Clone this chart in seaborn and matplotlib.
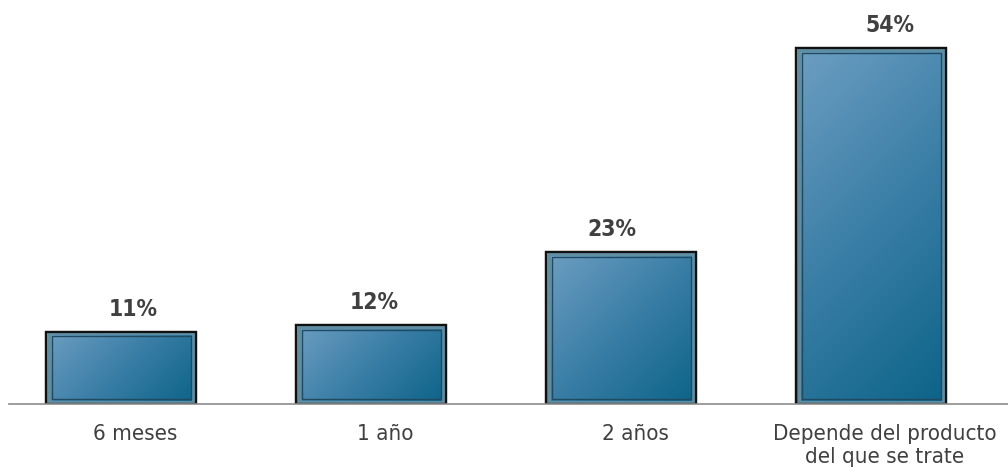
import numpy as np
import pandas as pd
import matplotlib
matplotlib.use("Agg")
import matplotlib.pyplot as plt
import matplotlib.transforms as mtransforms
from matplotlib import font_manager
import seaborn as sns
from matplotlib.colors import LinearSegmentedColormap
from matplotlib.patches import Rectangle

categories = ["6 meses", "1 año", "2 años", "Depende del producto\ndel que se trate"]
values = [11, 12, 23, 54]
value_labels = ["11%", "12%", "23%", "54%"]

df = pd.DataFrame({"cat": categories, "val": values})

sns.set_theme(style="white")
plt.rcParams["font.family"] = ["DejaVu Sans"]

# use condensed DejaVu if it is installed
fp = font_manager.FontProperties(family="DejaVu Sans", stretch="condensed")
cond_path = font_manager.findfont(fp)
has_cond = "Condensed" in cond_path
stretch = "condensed" if has_cond else "normal"
tick_size = 16 if has_cond else 14.5
val_size = 16.5 if has_cond else 15

fig = plt.figure(figsize=(10.08, 4.74), dpi=100)
ax = fig.add_axes([9 / 1008, (474 - 404) / 474, 999 / 1008, 404 / 474])

sns.barplot(data=df, x="cat", y="val", ax=ax, width=0.6, color="#2f7399",
            edgecolor="#111111", linewidth=1.6, zorder=2)

ax.set_xlim(-0.448, 3.548)
ax.set_ylim(0, 61.3)

cmap = LinearSegmentedColormap.from_list("g", ["#6e9ec2", "#3a7ea6", "#0c6388"])
px_per_x = 250.0
px_per_y = 404 / 61.3
label_dx_px = [12, 3, -9, 19]

for i, p in enumerate(ax.patches):
    x0, y0 = p.get_x(), p.get_y()
    w, h = p.get_width(), p.get_height()
    wp, hp = w * px_per_x, h * px_per_y
    gy, gx = np.mgrid[0:1:300j, 0:1:300j]  # gy: 0 at top
    t = (gx * wp + gy * hp) / (wp + hp)
    im = ax.imshow(t, cmap=cmap, extent=[x0, x0 + w, y0, y0 + h],
                   aspect="auto", origin="upper", zorder=2.5, vmin=0, vmax=1)
    im.set_clip_path(p)
    ax.add_patch(Rectangle((x0 + 0.012, y0 + 0.3), w - 0.024, h - 0.6,
                           fill=False, edgecolor="#5f8ea3", linewidth=2.2, zorder=3))
    ax.add_patch(Rectangle((x0 + 0.022, y0 + 0.75), w - 0.044, h - 1.5,
                           fill=False, edgecolor="#1f4a62", linewidth=1.0, zorder=3.1))
    ax.add_patch(Rectangle((x0, y0), w, h, fill=False, edgecolor="#111111",
                           linewidth=1.6, zorder=3.2))
    ax.text(x0 + w / 2 + label_dx_px[i] / px_per_x, y0 + h + 16 / px_per_y,
            value_labels[i], ha="center", va="baseline", fontsize=val_size,
            fontweight="bold", fontstretch=stretch, color="#404040")

for s in ["top", "right", "left"]:
    ax.spines[s].set_visible(False)
ax.spines["bottom"].set_color("#8c8c8c")
ax.spines["bottom"].set_linewidth(1.2)
ax.spines["bottom"].set_zorder(4)
ax.set_yticks([])
ax.set_xlabel("")
ax.set_ylabel("")
ax.tick_params(axis="x", length=0, pad=14.5, labelsize=tick_size, labelcolor="#404040")
shift = mtransforms.ScaledTranslation(14 / 100, 0, fig.dpi_scale_trans)
for lbl in ax.get_xticklabels():
    lbl.set_linespacing(1.2)
    lbl.set_fontstretch(stretch)
    lbl.set_transform(lbl.get_transform() + shift)

fig.savefig("out.png", dpi=100, facecolor="white")
